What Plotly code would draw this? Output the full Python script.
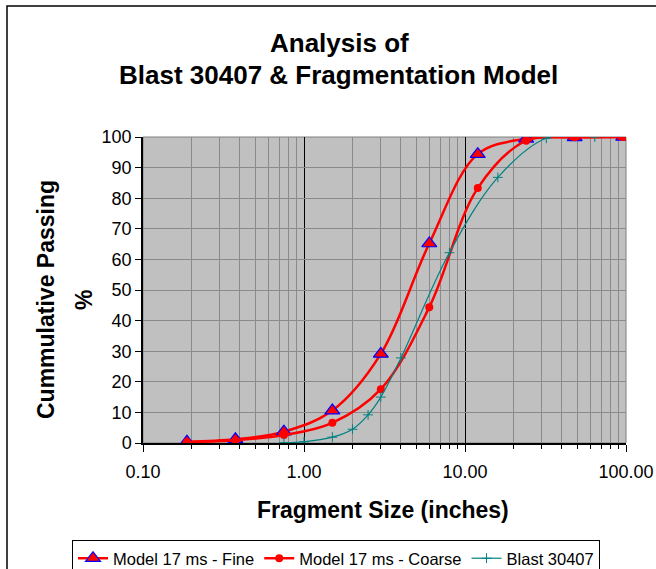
import plotly.graph_objects as go

# ---- data ----
model_sizes = [0.1875, 0.375, 0.75, 1.5, 3, 6, 12, 24, 48, 96]
fine_passing = [0.4, 1.2, 3.7, 10.6, 29.1, 65.2, 94.4, 99.4, 99.9, 100]
coarse_passing = [0.3, 0.9, 2.6, 6.6, 17.6, 44.4, 83.3, 98.8, 99.9, 100]
blast_sizes = [0.75, 1, 1.5, 2, 2.5, 3, 4, 8, 16, 32, 64]
blast_passing = [0.1, 0.4, 1.9, 4.5, 9.2, 15.0, 27.8, 62.2, 86.8, 99.6, 100]

x_major = [0.1, 1, 10, 100]
x_major_text = ["0.10", "1.00", "10.00", "100.00"]
x_minor = [m * d for d in (0.1, 1, 10) for m in range(2, 10)]

FONT = "Liberation Sans, Arial, sans-serif"
W, H = 656, 569
L, R, T, B = 143, 30, 137, 126

fig = go.Figure()
fig.add_trace(go.Scatter(
    x=model_sizes, y=fine_passing, name="Model 17 ms - Fine",
    mode="lines+markers", line=dict(color="#FF0000", width=2.5, shape="spline", smoothing=1),
    marker=dict(symbol="triangle-up", size=13, color="#FF0000", line=dict(color="#0000FF", width=1.2)),
))
fig.add_trace(go.Scatter(
    x=model_sizes, y=coarse_passing, name="Model 17 ms - Coarse",
    mode="lines+markers", line=dict(color="#FF0000", width=2.5, shape="spline", smoothing=1),
    marker=dict(symbol="circle", size=8, color="#FF0000"),
))
fig.add_trace(go.Scatter(
    x=blast_sizes, y=blast_passing, name="Blast 30407",
    mode="lines+markers", line=dict(color="#008080", width=1.2, shape="spline", smoothing=1),
    marker=dict(symbol="cross-thin", size=7, color="#008080", line=dict(color="#008080", width=1)),
))

fig.update_xaxes(
    type="log", range=[-1, 2], automargin=False,
    tickvals=x_major, ticktext=x_major_text,
    showgrid=True, gridcolor="#000000", gridwidth=1,
    showline=True, linecolor="#000000", linewidth=1.5,
    ticks="outside", ticklen=7, tickcolor="#000000", ticklabelstandoff=5,
    tickfont=dict(family=FONT, size=18, color="#000000"),
    minor=dict(tickvals=x_minor, showgrid=True, gridcolor="#8A8A8A", gridwidth=1,
               ticks="outside", ticklen=4, tickcolor="#000000"),
    zeroline=False, mirror=False,
)
fig.update_yaxes(
    range=[0, 100], dtick=10, automargin=False,
    showgrid=True, gridcolor="#8A8A8A", gridwidth=1,
    showline=True, linecolor="#000000", linewidth=1.5,
    ticks="outside", ticklen=6, tickcolor="#000000",
    tickfont=dict(family=FONT, size=18, color="#000000"),
    zeroline=False,
)

annotations = [
    dict(text="<b>Analysis of</b>", x=339, y=43, size=26),
    dict(text="<b>Blast 30407 &amp; Fragmentation Model</b>", x=338, y=75, size=26),
    dict(text="<b>Fragment Size (inches)</b>", x=383, y=510, size=23),
    dict(text="<b>Cummulative Passing</b>", x=46, y=300, size=23, angle=-90),
    dict(text="<b>%</b>", x=84, y=300, size=23, angle=-90),
]
ann = []
for a in annotations:
    ann.append(dict(
        text=a["text"], xref="paper", yref="paper",
        x=(a["x"] - L) / (W - L - R), y=(H - B - a["y"]) / (H - T - B),
        xanchor="center", yanchor="middle", showarrow=False,
        textangle=a.get("angle", 0),
        font=dict(family=FONT, size=a["size"], color="#000000"),
    ))

pw, ph = W - L - R, H - T - B
fig.update_layout(
    width=W, height=H,
    margin=dict(l=L, r=R, t=T, b=B, autoexpand=False),
    paper_bgcolor="#FFFFFF", plot_bgcolor="#C0C0C0",
    annotations=ann,
    showlegend=True,
    legend=dict(
        orientation="h", xref="paper", yref="paper",
        x=(72 - L) / pw, y=(H - B - 540) / ph,
        xanchor="left", yanchor="top",
        bgcolor="#FFFFFF", bordercolor="#000000", borderwidth=1,
        font=dict(family=FONT, size=16.5, color="#000000"),
        itemwidth=30, tracegroupgap=0,
    ),
    shapes=[
        dict(type="rect", xref="paper", yref="paper",
             x0=(7 - L) / pw, x1=(720 - L) / pw,
             y0=(H - B - 640) / ph, y1=(H - B - 6) / ph,
             line=dict(color="#000000", width=1.5), fillcolor="rgba(0,0,0,0)", layer="below"),
        dict(type="rect", xref="paper", yref="paper", x0=0, x1=1, y0=0, y1=1,
             line=dict(color="#808080", width=1), fillcolor="rgba(0,0,0,0)", layer="below"),
    ],
)

fig.write_html("out.html", config={"displayModeBar": False},
               post_script="document.body.style.margin='0px';document.body.style.overflow='hidden';")
